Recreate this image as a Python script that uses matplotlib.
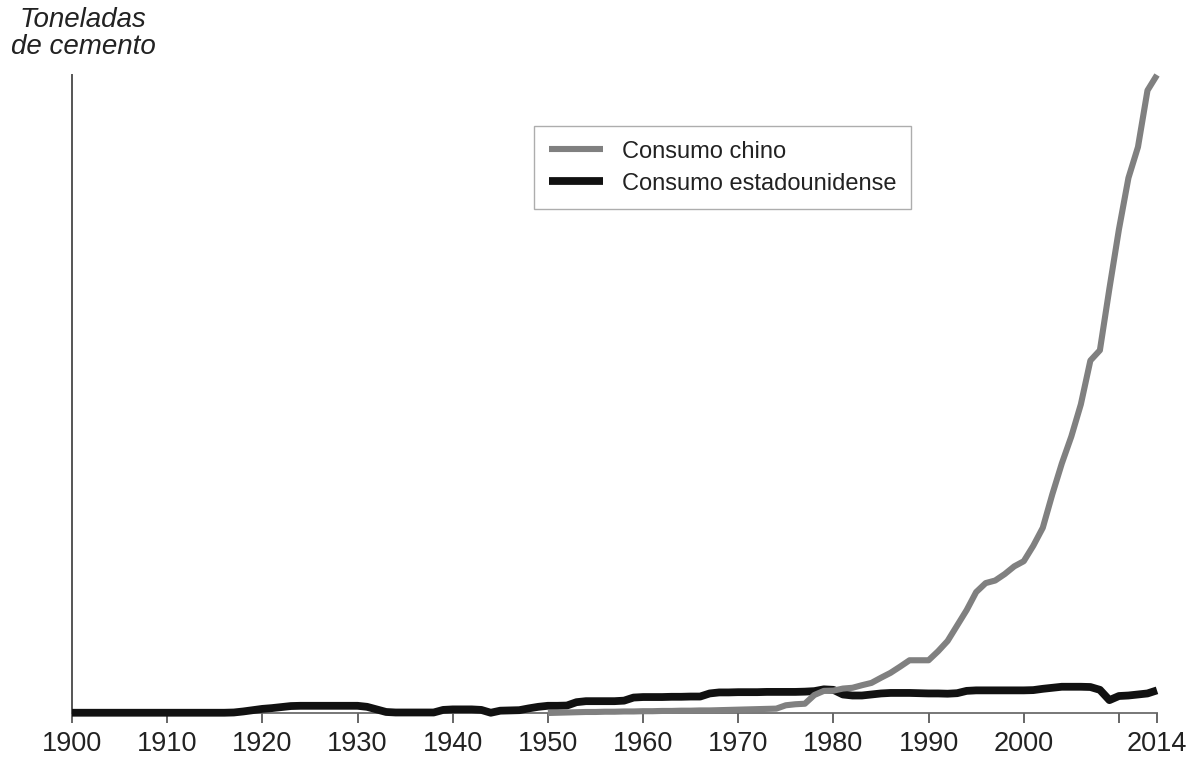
import matplotlib
matplotlib.use("Agg")
import matplotlib.pyplot as plt
import numpy as np

plt.rcParams['font.family'] = ['Liberation Sans', 'DejaVu Sans']

# consumo de cemento, millones de toneladas
years_us = list(range(1900, 2015))
us = ([1] * 17 +                                   # 1900-1916
      [2, 6, 11, 16, 19, 23, 27, 28, 28, 28, 28, 28, 28, 28,  # 1917-1930
       24, 14, 4, 2, 2, 2, 2, 2,                   # 1931-1938
       12, 14, 14, 14, 12, 1, 9, 10, 11, 18,       # 1939-1948
       24, 28, 28, 29, 42, 46, 46, 46, 46, 48,     # 1949-1958
       60, 62, 62, 62, 63, 63, 64, 64,             # 1959-1966
       76, 80, 80, 81, 81, 81, 82, 82, 82, 82, 83, 85,  # 1967-1978
       92, 90, 72, 68, 68, 72, 76, 78, 78, 78, 77, 76, 76, 75, 77,  # 1979-1993
       86, 88, 88, 88, 88, 88, 88, 89,             # 1994-2001
       94, 98, 102, 102, 102, 101, 90, 50,         # 2002-2009
       66, 68, 72, 76, 88])                        # 2010-2014

years_cn = list(range(1950, 2015))
china = [0, 1, 2, 3, 4, 4, 5, 5, 6, 6,             # 1950-1959
         7, 7, 8, 8, 9, 9, 10, 10, 11, 12,         # 1960-1969
         13, 14, 15, 16, 17, 30, 34, 36, 70, 86,   # 1970-1979
         87, 95, 98, 108, 117, 137, 156, 180, 205, 205,  # 1980-1989
         205, 240, 280, 340, 400, 470, 505, 515, 540, 570,  # 1990-1999
         590, 650, 720, 850, 970, 1075, 1200, 1370, 1410, 1650,  # 2000-2009
         1880, 2080, 2200, 2420, 2480]             # 2010-2014

xticks = [1900, 1910, 1920, 1930, 1940, 1950, 1960, 1970, 1980, 1990, 2000, 2010, 2014]
xticklabels = ['1900', '1910', '1920', '1930', '1940', '1950', '1960', '1970',
               '1980', '1990', '2000', '', '2014']

fig = plt.figure(figsize=(11.9, 7.62), dpi=100)
ax = fig.add_axes([72 / 1190, 1 - 713 / 762, (1157 - 72) / 1190, (713 - 75) / 762])

ax.plot(years_us, us, color='#111111', lw=5.6, solid_joinstyle='round',
        solid_capstyle='butt', label='Consumo estadounidense', clip_on=False, zorder=3)
ax.plot(years_cn, china, color='#808080', lw=4.4, solid_joinstyle='round',
        solid_capstyle='butt', label='Consumo chino', clip_on=False, zorder=4)

ax.set_xlim(1900, 2014)
ax.set_ylim(0, 2480)

for s in ['top', 'right']:
    ax.spines[s].set_visible(False)
ax.spines['left'].set_color('#555555')
ax.spines['left'].set_linewidth(1.4)
ax.spines['bottom'].set_color('#777777')
ax.spines['bottom'].set_linewidth(1.4)
ax.spines['bottom'].set_zorder(1)

ax.set_yticks([])
ax.set_xticks(xticks)
ax.set_xticklabels(xticklabels, fontsize=19.5, color='#222222')
ax.tick_params(axis='x', length=7, width=1.4, color='#666666', pad=6)

fig.text(83 / 1190, 1 - 7 / 762, 'Toneladas\nde cemento', ha='center', va='top',
         fontsize=20, style='italic', color='#222222', linespacing=1.05)

handles, labels = ax.get_legend_handles_labels()
leg = ax.legend(handles[::-1], labels[::-1], loc='upper left',
                bbox_to_anchor=(534 / 1190, 1 - 126 / 762), bbox_transform=fig.transFigure,
                borderaxespad=0, fontsize=17, handlelength=2.3, handletextpad=0.8,
                labelspacing=0.42, borderpad=0.62, fancybox=False, frameon=True)
leg.get_frame().set_edgecolor('#999999')
leg.get_frame().set_linewidth(1.0)
for t in leg.get_texts():
    t.set_color('#222222')

fig.savefig('out.png', dpi=100)
